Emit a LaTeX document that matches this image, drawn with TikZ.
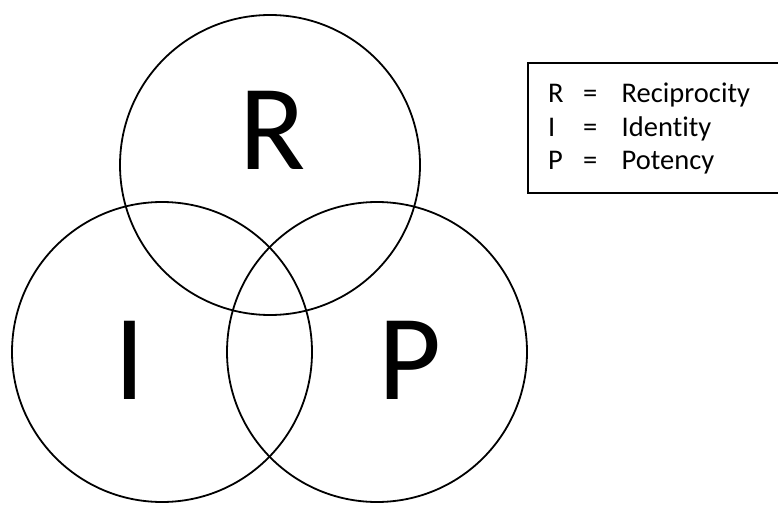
\documentclass[tikz,border=0pt]{standalone}
\usepackage{fontspec}
\setmainfont[Ligatures=NoCommon]{Carlito}
\begin{document}
\begin{tikzpicture}[x=1pt,y=1pt,
  ring/.style={draw=black,line width=1.8pt},
  bigletter/.style={inner sep=0pt,anchor=base,font=\fontsize{122}{122}\selectfont},
  legtext/.style={inner sep=0pt,anchor=base west,font=\fontsize{28.5}{28.5}\selectfont},
  legbox/.style={draw=black,line width=1.8pt}]
\useasboundingbox (0,0) rectangle (778,504);
\clip (0,0) rectangle (778,504);
\draw[ring] (270,339) circle (150);
\draw[ring] (162,152) circle (150);
\draw[ring] (377,152) circle (150);
\node[bigletter] (bR) at (272.5,334.7) {R};
\node[bigletter] (bI) at (130,104.5) {I};
\node[bigletter] (bP) at (410,104.5) {P};
\draw[legbox] (528,441) rectangle (800,311);
\node[legtext] (l1a) at (548,401) {R};
\node[legtext] (l1b) at (583,401) {=};
\node[legtext] (l1c) at (621.5,401) {Reciprocity};
\node[legtext] (l2a) at (548,367.3) {I};
\node[legtext] (l2b) at (583,367.3) {=};
\node[legtext] (l2c) at (621.5,367.3) {Identity};
\node[legtext] (l3a) at (548,334) {P};
\node[legtext] (l3b) at (583,334) {=};
\node[legtext] (l3c) at (621.5,334) {Potency};
\end{tikzpicture}
\end{document}
